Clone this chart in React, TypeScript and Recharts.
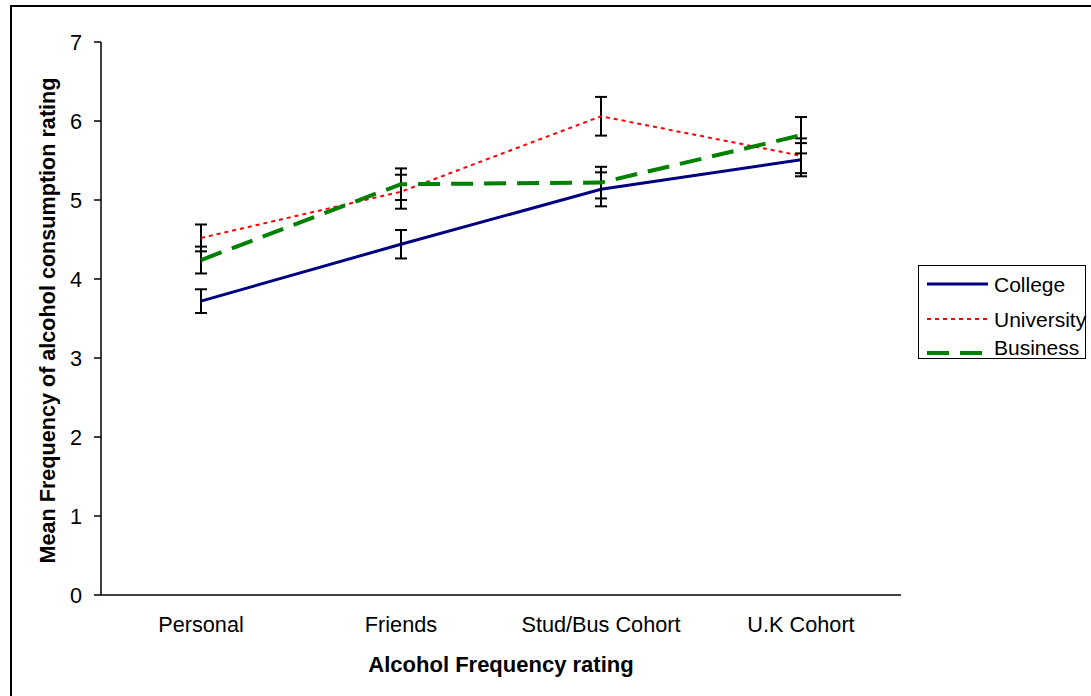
import React from 'react';
import { LineChart, Line, XAxis, YAxis, ErrorBar, Legend, Label } from 'recharts';

const categories = ['Personal', 'Friends', 'Stud/Bus Cohort', 'U.K Cohort'];
const college = [3.72, 4.44, 5.135, 5.51];
const collegeErr = [0.15, 0.18, 0.215, 0.21];
const university = [4.52, 5.105, 6.06, 5.56];
const universityErr = [0.17, 0.215, 0.245, 0.22];
const business = [4.24, 5.2, 5.22, 5.82];
const businessErr = [0.17, 0.2, 0.2, 0.23];
const yTicks = [0, 1, 2, 3, 4, 5, 6, 7];

const FONT = '"Liberation Sans", Arial, sans-serif';

const data = categories.map((c, i) => ({
  cat: c,
  pos: i + 0.5,
  college: college[i],
  collegeErr: collegeErr[i],
  university: university[i],
  universityErr: universityErr[i],
  business: business[i],
  businessErr: businessErr[i],
}));

const series = [
  { key: 'college', name: 'College', color: '#000080', width: 3, dash: undefined as string | undefined },
  { key: 'university', name: 'University', color: '#FF0000', width: 2, dash: '4 4' },
  { key: 'business', name: 'Business', color: '#008000', width: 4, dash: '22 11' },
];

// legend row layout (line y, text baseline) inside the legend box
const legendRows = [
  { line: 18, text: 26 },
  { line: 53, text: 61 },
  { line: 87, text: 89 },
];

const LegendBox = () => (
  <div
    style={{
      width: 168,
      height: 94,
      border: '1.5px solid #000',
      boxSizing: 'border-box',
      background: '#fff',
    }}
  >
    <svg width={165} height={91} style={{ display: 'block', overflow: 'visible' }}>
      {series.map((s, i) => {
        const r = legendRows[i];
        return (
          <g key={s.key}>
            <line x1={8} x2={69} y1={r.line} y2={r.line} stroke={s.color} strokeWidth={s.width} strokeDasharray={s.dash} />
            <text x={75} y={r.text} fontSize={21} fontFamily={FONT} fill="#000">
              {s.name}
            </text>
          </g>
        );
      })}
    </svg>
  </div>
);

export default function App() {
  return (
    <div style={{ position: 'absolute', left: 0, top: 0, width: 1091, height: 696, background: '#fff', overflow: 'hidden' }}>
      <div
        style={{
          position: 'absolute',
          left: 10,
          top: 5,
          width: 1081,
          height: 691,
          borderLeft: '2px solid #000',
          borderTop: '2px solid #000',
          boxSizing: 'border-box',
        }}
      />
      <div style={{ position: 'absolute', left: 0, top: 0 }}>
        <LineChart width={1091} height={696} data={data} margin={{ top: 42, right: 190, bottom: 61, left: 41 }}>
          <XAxis
            xAxisId="bounds"
            dataKey="pos"
            type="number"
            domain={[0, 4]}
            ticks={[0, 1, 2, 3, 4]}
            tick={false}
            tickSize={7}
            tickLine={{ stroke: '#000', strokeWidth: 1.5 }}
            axisLine={false}
            height={0}
          />
          <XAxis
            xAxisId="cat"
            dataKey="pos"
            type="number"
            domain={[0, 4]}
            ticks={[0.5, 1.5, 2.5, 3.5]}
            interval={0}
            tickFormatter={(v: number) => categories[Math.floor(v)]}
            tickLine={false}
            tickSize={0}
            tickMargin={21.5}
            axisLine={{ stroke: '#000', strokeWidth: 1.5 }}
            tick={{ fontSize: 21.7, fill: '#000', fontFamily: FONT }}
            height={40}
          >
            <Label
              content={(props: any) => {
                const vb = props.viewBox || {};
                return (
                  <text
                    x={vb.x + vb.width / 2}
                    y={vb.y + 77}
                    textAnchor="middle"
                    fontSize={22}
                    fontWeight="bold"
                    fontFamily={FONT}
                    fill="#000"
                  >
                    Alcohol Frequency rating
                  </text>
                );
              }}
            />
          </XAxis>
          <YAxis
            type="number"
            domain={[0, 7]}
            ticks={yTicks}
            interval={0}
            width={60}
            tickSize={7}
            tickMargin={12}
            tickLine={{ stroke: '#000', strokeWidth: 1.5 }}
            axisLine={{ stroke: '#000', strokeWidth: 1.5 }}
            tick={{ fontSize: 21.7, fill: '#000', fontFamily: FONT }}
          >
            <Label
              content={(props: any) => {
                const vb = props.viewBox || {};
                const cx = vb.x + 6;
                const cy = vb.y + vb.height / 2 + 2;
                return (
                  <text
                    x={cx}
                    y={cy}
                    transform={`rotate(-90 ${cx} ${cy})`}
                    textAnchor="middle"
                    dominantBaseline="central"
                    fontSize={21.6}
                    fontWeight="bold"
                    fontFamily={FONT}
                    fill="#000"
                  >
                    Mean Frequency of alcohol consumption rating
                  </text>
                );
              }}
            />
          </YAxis>
          {series.map((s) => (
            <Line
              key={s.key}
              xAxisId="cat"
              type="linear"
              dataKey={s.key}
              name={s.name}
              stroke={s.color}
              strokeWidth={s.width}
              strokeDasharray={s.dash}
              dot={false}
              activeDot={false}
              isAnimationActive={false}
            >
              <ErrorBar dataKey={`${s.key}Err`} direction="y" width={6} stroke="#000" strokeWidth={2} strokeDasharray="0" />
            </Line>
          ))}
          <Legend
            layout="vertical"
            align="center"
            verticalAlign="middle"
            wrapperStyle={{ position: 'absolute', left: 918, top: 265, width: 168, height: 94 }}
            content={() => <LegendBox />}
          />
        </LineChart>
      </div>
    </div>
  );
}
